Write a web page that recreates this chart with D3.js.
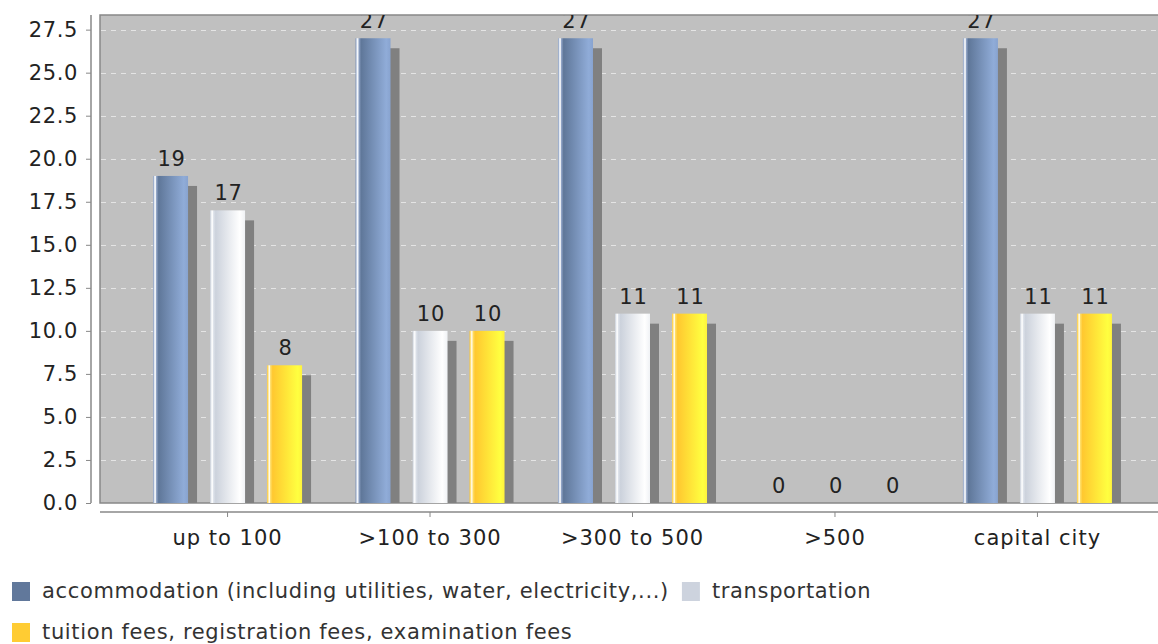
<!DOCTYPE html>
<html>
<head>
<meta charset="utf-8">
<script src="https://cdn.jsdelivr.net/npm/d3@7/dist/d3.min.js"></script>
<style>
html,body{margin:0;padding:0;background:#fff;}
svg{display:block;font-family:"DejaVu Sans",sans-serif;}
</style>
</head>
<body>
<svg id="chart" width="1158" height="644"></svg>
<script>
const categories = ["up to 100", ">100 to 300", ">300 to 500", ">500", "capital city"];
const seriesNames = ["accommodation (including utilities, water, electricity,...)", "transportation", "tuition fees, registration fees, examination fees"];
const accommodation = [19, 27, 27, 0, 27];
const transportation = [17, 10, 11, 0, 11];
const tuition = [8, 10, 11, 0, 11];
const yTicks = [0, 2.5, 5, 7.5, 10, 12.5, 15, 17.5, 20, 22.5, 25, 27.5];
const seriesValues = [accommodation, transportation, tuition];
const legendColors = ["#61789b", "#cdd3de", "#ffcc33"];

const svg = d3.select("#chart");
const plot = {left: 100, top: 15, right: 1165, bottom: 503};

const x = d3.scaleBand().domain(categories).range([plot.left, plot.right]).paddingInner(0.264).paddingOuter(0.262);
const xs = d3.scaleBand().domain(d3.range(seriesNames.length)).range([0, x.bandwidth()]).paddingInner(0.386).paddingOuter(0);
const y = d3.scaleLinear().domain([0, 28.35]).range([plot.bottom, plot.top]);

const defs = svg.append("defs");
const grads = [
  [["0%","#7d93b8"],["4%","#dfe6f2"],["6.5%","#ffffff"],["10%","#8ea2c4"],["16%","#5f7799"],["88%","#90acd8"],["100%","#88a3cf"]],
  [["0%","#c6ccd6"],["4%","#eef1f5"],["6.5%","#ffffff"],["10%","#dde2ea"],["16%","#ccd2dc"],["85%","#ffffff"],["100%","#f0f2f5"]],
  [["0%","#ffc830"],["4%","#ffeaa0"],["6.5%","#ffffff"],["10%","#ffdd66"],["16%","#ffc830"],["88%","#ffff40"],["100%","#fff23c"]]
];
grads.forEach((stops, i) => {
  const g = defs.append("linearGradient").attr("id", "g" + i).attr("x1", "0").attr("x2", "1").attr("y1", "0").attr("y2", "0");
  stops.forEach(s => g.append("stop").attr("offset", s[0]).attr("stop-color", s[1]));
});
defs.append("clipPath").attr("id", "plotclip").append("rect")
  .attr("x", plot.left).attr("y", plot.top).attr("width", 1158 - plot.left).attr("height", plot.bottom - plot.top);

// plot background
svg.append("rect").attr("x", plot.left).attr("y", plot.top).attr("width", 1158 - plot.left + 10).attr("height", plot.bottom - plot.top)
  .attr("fill", "#c0c0c0").attr("stroke", "#888").attr("stroke-width", 1.5);

// gridlines
svg.append("g").selectAll("line").data(yTicks.filter(t => t > 0)).join("line")
  .attr("x1", plot.left + 1).attr("x2", 1158).attr("y1", d => Math.round(y(d)) + 0.5).attr("y2", d => Math.round(y(d)) + 0.5)
  .attr("stroke", "#e4e4e4").attr("stroke-width", 1).attr("stroke-dasharray", "5,5");

const gBars = svg.append("g").attr("clip-path", "url(#plotclip)");
const items = [];
categories.forEach((c, ci) => {
  seriesValues.forEach((vals, si) => {
    items.push({c, si, v: vals[ci]});
  });
});
const bx = d => x(d.c) + xs(d.si);
// shadows
gBars.selectAll("rect.shadow").data(items.filter(d => d.v > 0)).join("rect").attr("class", "shadow")
  .attr("x", d => bx(d) + 9).attr("y", d => y(d.v) + 10)
  .attr("width", xs.bandwidth()).attr("height", d => y(0) - y(d.v))
  .attr("fill", "#808080");
// bars
gBars.selectAll("rect.bar").data(items.filter(d => d.v > 0)).join("rect").attr("class", "bar")
  .attr("x", d => bx(d)).attr("y", d => y(d.v))
  .attr("width", xs.bandwidth()).attr("height", d => y(0) - y(d.v))
  .attr("fill", d => "url(#g" + d.si + ")");
// item labels
gBars.selectAll("text.lbl").data(items).join("text").attr("class", "lbl")
  .attr("x", d => bx(d) + xs.bandwidth() / 2 + 1).attr("y", d => y(d.v) - 10)
  .attr("text-anchor", "middle").attr("font-size", 21).attr("letter-spacing", 0.8).attr("fill", "#222")
  .text(d => d.v);

// y axis
const yAxis = d3.axisLeft(y).tickValues(yTicks).tickFormat(d3.format(".1f")).tickSize(5).tickPadding(8);
const gy = svg.append("g").attr("transform", "translate(91,0)").call(yAxis);
gy.select(".domain").attr("stroke", "#888").attr("stroke-width", 1.5).attr("d", `M0,${plot.top}V${plot.bottom}`);
gy.selectAll(".tick line").attr("stroke", "#888");
gy.selectAll(".tick text").attr("font-size", 21).attr("letter-spacing", 0.6).attr("fill", "#222").attr("font-family", "DejaVu Sans");

// x axis
const xAxis = d3.axisBottom(x).tickSize(5).tickPadding(13);
const gx = svg.append("g").attr("transform", "translate(0,512)").call(xAxis);
gx.select(".domain").attr("stroke", "#888").attr("stroke-width", 1.5).attr("d", `M${plot.left},0H1158`);
gx.selectAll(".tick line").attr("stroke", "#888");
gx.selectAll(".tick text").attr("font-size", 21).attr("letter-spacing", 1).attr("fill", "#222").attr("font-family", "DejaVu Sans");

// legend
const leg = svg.append("g");
const rows = [[0, 1], [2]];
rows.forEach((row, ri) => {
  let cx = 12;
  const yy = 582 + ri * 41;
  row.forEach(si => {
    leg.append("rect").attr("x", cx).attr("y", yy).attr("width", 18).attr("height", 19).attr("fill", legendColors[si]);
    const t = leg.append("text").attr("x", cx + 30).attr("y", yy + 16).attr("font-size", 21).attr("letter-spacing", 0.65).attr("fill", "#333").text(seriesNames[si]);
    cx = cx + 30 + t.node().getComputedTextLength() + 13;
  });
});
</script>
</body>
</html>
